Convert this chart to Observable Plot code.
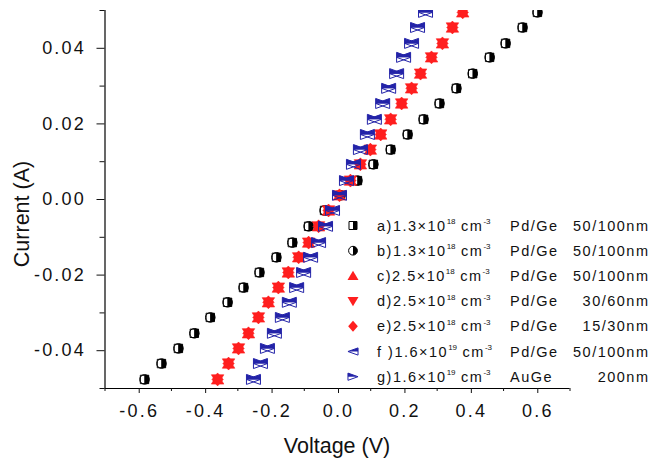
<!DOCTYPE html>
<html><head><meta charset="utf-8">
<script src="https://cdn.jsdelivr.net/npm/d3@7"></script>
<script src="https://cdn.jsdelivr.net/npm/@observablehq/plot@0.6"></script>
<style>
html,body{margin:0;padding:0;background:#fff;}
#chart{width:650px;height:462px;}
#chart svg text{font-family:"Liberation Sans",Arial,sans-serif;}
#chart [aria-label$="tick label"]{letter-spacing:2.2px;}
</style></head><body><div id="chart"></div>
<script>
// Current (A), shared sweep for all devices
const current = [-0.0476,-0.0434,-0.0394,-0.0354,-0.0312,-0.0272,-0.0233,-0.0193,-0.0153,-0.0114,-0.0071,-0.0029,0.0011,0.0050,0.0093,0.0132,0.0172,0.0212,0.0254,0.0294,0.0333,0.0376,0.0413,0.0455,0.0495];
// Voltage (V) per device
const voltageA = [-0.581,-0.530,-0.479,-0.431,-0.383,-0.331,-0.283,-0.235,-0.184,-0.136,-0.087,-0.039,0.009,0.060,0.108,0.160,0.211,0.259,0.307,0.358,0.407,0.458,0.506,0.557,0.602];
const voltageB = [-0.581,-0.530,-0.479,-0.431,-0.383,-0.331,-0.283,-0.235,-0.184,-0.136,-0.087,-0.039,0.009,0.060,0.108,0.160,0.211,0.259,0.307,0.358,0.407,0.458,0.506,0.557,0.602];
const voltageC = [-0.361,-0.328,-0.298,-0.268,-0.238,-0.208,-0.178,-0.148,-0.117,-0.087,-0.057,-0.027,0.006,0.039,0.069,0.099,0.130,0.160,0.193,0.223,0.250,0.283,0.316,0.346,0.377];
const voltageD = [-0.361,-0.328,-0.298,-0.268,-0.238,-0.208,-0.178,-0.148,-0.117,-0.087,-0.057,-0.027,0.006,0.039,0.069,0.099,0.130,0.160,0.193,0.223,0.250,0.283,0.316,0.346,0.377];
const voltageE = [-0.361,-0.328,-0.298,-0.268,-0.238,-0.208,-0.178,-0.148,-0.117,-0.087,-0.057,-0.027,0.006,0.039,0.069,0.099,0.130,0.160,0.193,0.223,0.250,0.283,0.316,0.346,0.377];
const voltageF = [-0.253,-0.232,-0.211,-0.190,-0.166,-0.145,-0.123,-0.102,-0.081,-0.057,-0.036,-0.015,0.006,0.027,0.048,0.069,0.090,0.111,0.136,0.154,0.178,0.199,0.223,0.241,0.265];
const voltageG = [-0.253,-0.232,-0.211,-0.190,-0.166,-0.145,-0.123,-0.102,-0.081,-0.057,-0.036,-0.015,0.006,0.027,0.048,0.069,0.090,0.111,0.136,0.154,0.178,0.199,0.223,0.241,0.265];

// Legend texts
const legendLetters = ["a)","b)","c)","d)","e)","f )","g)"];
const legendMantissa = ["1.3","1.3","2.5","2.5","2.5","1.6","1.6"];
const legendExponent = ["18","18","18","18","18","19","19"];
const legendMetal = ["Pd/Ge","Pd/Ge","Pd/Ge","Pd/Ge","Pd/Ge","Pd/Ge","AuGe"];
const legendThickness = ["50/100nm","50/100nm","50/100nm","30/60nm","15/30nm","50/100nm","200nm"];

// Axis ticks
const xMajor = [-0.6,-0.4,-0.2,0,0.2,0.4,0.6];
const xMinor = [-0.7,-0.5,-0.3,-0.1,0.1,0.3,0.5,0.7];
const yMajor = [-0.04,-0.02,0,0.02,0.04];
const yMinor = [-0.05,-0.03,-0.01,0.01,0.03,0.05];

// custom symbols
const R = s => Math.sqrt(s / Math.PI);
const sym = {
  square: {draw(c,s){const r=R(s); c.rect(-r,-r,2*r,2*r);}},
  squareRight: {draw(c,s){const r=R(s); c.rect(0,-r,r,2*r);}},
  circle: {draw(c,s){const r=R(s); c.moveTo(r,0); c.arc(0,0,r,0,2*Math.PI);}},
  circleRight: {draw(c,s){const r=R(s); c.moveTo(0,-r); c.arc(0,0,r,-Math.PI/2,Math.PI/2); c.closePath();}},
  triUp: {draw(c,s){const r=R(s); c.moveTo(0,-1.1*r); c.lineTo(1.2*r,0.9*r); c.lineTo(-1.2*r,0.9*r); c.closePath();}},
  triDown: {draw(c,s){const r=R(s); c.moveTo(0,1.1*r); c.lineTo(1.2*r,-0.9*r); c.lineTo(-1.2*r,-0.9*r); c.closePath();}},
  diamond: {draw(c,s){const r=R(s); c.moveTo(0,-1.2*r); c.lineTo(1.05*r,0); c.lineTo(0,1.2*r); c.lineTo(-1.05*r,0); c.closePath();}},
  triLeft: {draw(c,s){const r=R(s); c.moveTo(-1.4*r,0); c.lineTo(1.4*r,-r); c.lineTo(1.4*r,r); c.closePath();}},
  triLeftTop: {draw(c,s){const r=R(s); c.moveTo(-1.4*r,0); c.lineTo(1.4*r,-r); c.lineTo(1.4*r,0); c.closePath();}},
  triRight: {draw(c,s){const r=R(s); c.moveTo(1.4*r,0); c.lineTo(-1.4*r,-r); c.lineTo(-1.4*r,r); c.closePath();}},
  triRightTop: {draw(c,s){const r=R(s); c.moveTo(1.4*r,0); c.lineTo(-1.4*r,-r); c.lineTo(-1.4*r,0); c.closePath();}}
};
const BLACK="#000", RED="#ff1f1f", BLUE="#2323a8";
const series = [
  {v: voltageA, outline: sym.square, half: sym.squareRight, color: BLACK, r: 4.2, bg: "white", lr: 4},
  {v: voltageB, outline: sym.circle, half: sym.circleRight, color: BLACK, r: 4.8, bg: "none", lr: 4.4},
  {v: voltageC, outline: null, half: sym.triUp, color: RED, r: 5.2, lr: 4.6},
  {v: voltageD, outline: null, half: sym.triDown, color: RED, r: 5.2, lr: 4.6},
  {v: voltageE, outline: null, half: sym.diamond, color: RED, r: 5.4, lr: 4.6},
  {v: voltageF, outline: sym.triLeft, half: sym.triLeftTop, color: BLUE, r: 5, bg: "none", lr: 3.6},
  {v: voltageG, outline: sym.triRight, half: sym.triRightTop, color: BLUE, r: 5, bg: "none", lr: 3.6}
];

const marks = [];
series.forEach(s => {
  const rows = s.v.map((v, i) => ({v, i: current[i]}));
  if (s.outline) marks.push(Plot.dot(rows, {x: "v", y: "i", symbol: s.outline, r: s.r, fill: s.bg, stroke: s.color, strokeWidth: 1, clip: true}));
  marks.push(Plot.dot(rows, {x: "v", y: "i", symbol: s.half, r: s.r, fill: s.color, stroke: s.outline ? "none" : s.color, strokeWidth: 0.6, clip: true}));
});

const plot = Plot.plot({
  width: 650, height: 462,
  marginLeft: 104.5, marginRight: 80.5, marginTop: 10, marginBottom: 74,
  style: {fontFamily: "Liberation Sans, Arial, sans-serif", background: "#fff", color: "#111"},
  x: {domain: [-0.7, 0.7]},
  y: {domain: [-0.05, 0.05]},
  marks: [
    Plot.ruleX([-0.7], {stroke: "#000", strokeWidth: 1.2}),
    Plot.ruleY([-0.05], {stroke: "#000", strokeWidth: 1.2}),
    Plot.axisX({ticks: xMajor, tickSize: 5, tickPadding: 11, tickFormat: d => d.toFixed(1), fontSize: 18, label: null, dx: 1}),
    Plot.axisX({ticks: xMinor, tickSize: 3, tickFormat: () => "", label: null}),
    Plot.axisY({ticks: yMajor, tickSize: 8, tickPadding: 11, tickFormat: d => d.toFixed(2), fontSize: 18, label: null}),
    Plot.axisY({ticks: yMinor, tickSize: 5, tickFormat: () => "", label: null}),
    ...marks
  ]
});

const svg = d3.select(plot);
// axis titles
svg.append("text").attr("transform", "translate(29,214) rotate(-90)").attr("text-anchor", "middle")
  .attr("font-size", 21.5).attr("fill", "#111").text("Current (A)");
svg.append("text").attr("x", 337).attr("y", 453).attr("text-anchor", "middle")
  .attr("font-size", 21.5).attr("fill", "#111").text("Voltage (V)");

// legend
const lg = svg.append("g").attr("fill", "#111").attr("text-anchor", "start");
series.forEach((s, k) => {
  const cy = 225.5 + k * 25.2;
  const size = Math.PI * s.lr * s.lr;
  const g = lg.append("g").attr("transform", `translate(353,${cy})`);
  if (s.outline) g.append("path").attr("d", d3.symbol(s.outline, size)()).attr("fill", s.bg).attr("stroke", s.color);
  g.append("path").attr("d", d3.symbol(s.half, size)()).attr("fill", s.color);
  const t = lg.append("text").attr("x", 377).attr("y", cy + 5).attr("font-size", 14.5).attr("letter-spacing", 1.5).attr("text-anchor", "start");
  t.append("tspan").text(legendLetters[k] + legendMantissa[k] + "×10");
  t.append("tspan").attr("font-size", 8).attr("letter-spacing", 0).attr("dy", -6.5).text(legendExponent[k]);
  t.append("tspan").attr("dy", 6.5).text(" cm");
  t.append("tspan").attr("font-size", 8).attr("letter-spacing", 0).attr("dy", -6.5).text("-3");
  lg.append("text").attr("x", 510).attr("y", cy + 5).attr("font-size", 14.5).attr("letter-spacing", 1.5).attr("text-anchor", "start").text(legendMetal[k]);
  lg.append("text").attr("x", 649.5).attr("y", cy + 5).attr("font-size", 14.5).attr("letter-spacing", 1.5).attr("text-anchor", "end").text(legendThickness[k]);
});

document.getElementById("chart").appendChild(plot);
</script></body></html>
